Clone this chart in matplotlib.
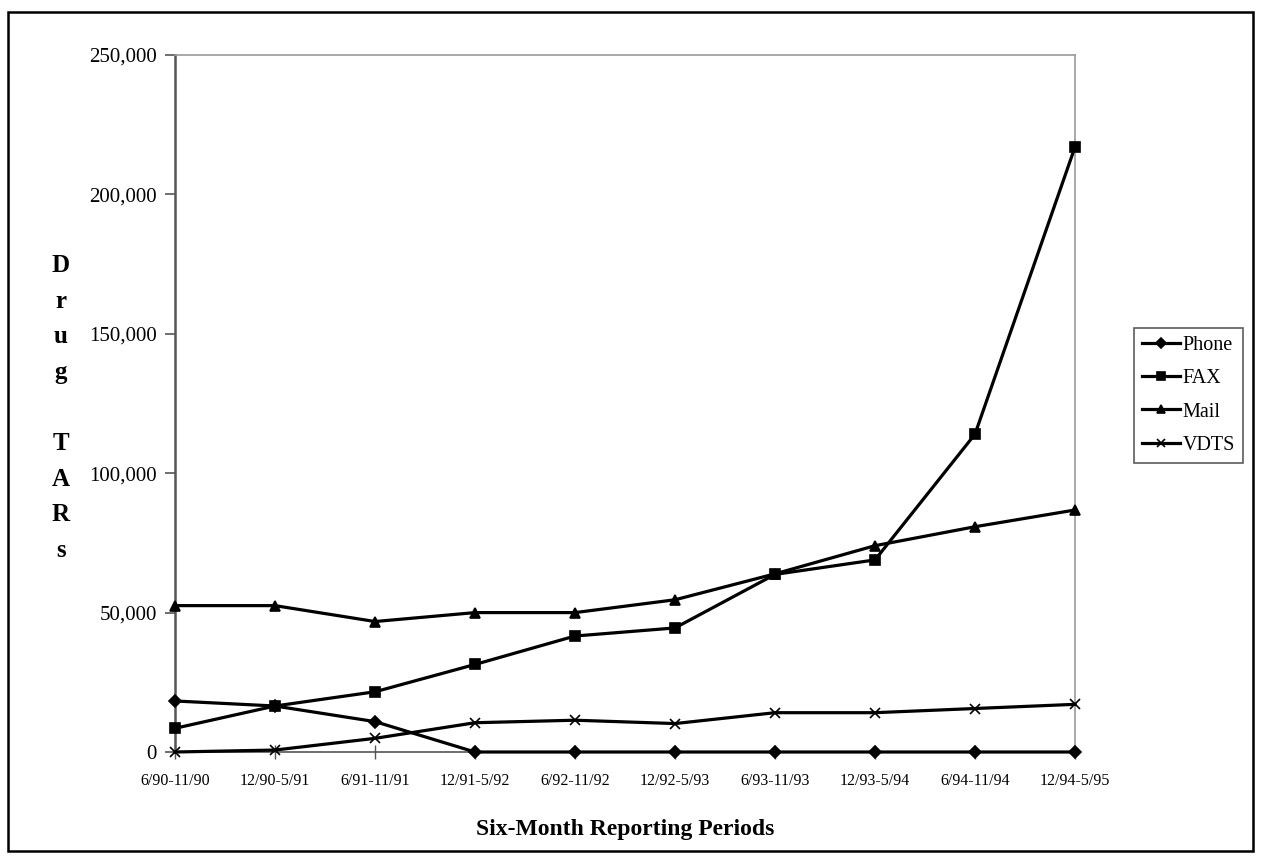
import matplotlib.pyplot as plt
from matplotlib.patches import Rectangle
from matplotlib.ticker import FuncFormatter

plt.rcParams['font.family'] = ['Liberation Serif', 'DejaVu Serif']

# six-month reporting periods
periods = ['6/90-11/90', '12/90-5/91', '6/91-11/91', '12/91-5/92', '6/92-11/92',
           '12/92-5/93', '6/93-11/93', '12/93-5/94', '6/94-11/94', '12/94-5/95']

# drug TARs received by submission method
phone = [18300, 16500, 10900, 0, 0, 0, 0, 0, 0, 0]
fax   = [8500, 16500, 21600, 31400, 41600, 44500, 63700, 68900, 114000, 217000]
mail  = [52500, 52500, 46800, 50000, 50000, 54600, 63900, 74000, 80800, 86800]
vdts  = [0, 700, 4900, 10500, 11400, 10200, 14100, 14100, 15600, 17100]

series = [('Phone', phone, 'D', 6),
          ('FAX', fax, 's', 6.5),
          ('Mail', mail, '^', 7),
          ('VDTS', vdts, 'x', 7)]

W, H = 1261, 861
fig = plt.figure(figsize=(W / 100, H / 100), dpi=100)
ax = fig.add_axes([175 / W, 1 - 752 / H, 900 / W, 697 / H])

x = list(range(len(periods)))
handles = []
for name, vals, mk, ms in series:
    ln, = ax.plot(x, vals, color='black', lw=2.3, marker=mk, ms=ms,
                  mec='black', mfc='black', mew=1.2, clip_on=False, zorder=3,
                  label=name)
    handles.append(ln)

ax.set_xlim(0, len(periods) - 1)
ax.set_ylim(0, 250000)
ax.set_xticks(x)
ax.set_xticklabels(periods, fontsize=11.5)
ax.set_yticks(range(0, 250001, 50000))
ax.yaxis.set_major_formatter(FuncFormatter(lambda v, p: f'{v:,.0f}'))
ax.tick_params(axis='y', labelsize=15, direction='out', length=7,
               width=1.2, color='#555555', pad=6)
ax.tick_params(axis='x', direction='inout', length=10, width=1,
               color='#555555', pad=10)

for side in ('top', 'right'):
    ax.spines[side].set_color('#999999')
    ax.spines[side].set_linewidth(1.2)
ax.spines['left'].set_color('#555555')
ax.spines['left'].set_linewidth(1.8)
ax.spines['bottom'].set_color('#555555')
ax.spines['bottom'].set_linewidth(1.2)

fig.text(625 / W, 1 - 830 / H, 'Six-Month Reporting Periods',
         ha='center', va='center', fontsize=17, fontweight='bold')
fig.text(61 / W, 1 - 408 / H, '\n'.join('Drug TARs'),
         ha='center', va='center', fontsize=18, fontweight='bold',
         linespacing=1.7)

leg = fig.legend(handles=handles, loc='upper left',
                 bbox_to_anchor=(1134 / W, 1 - 328 / H), borderaxespad=0,
                 fontsize=14.5, handlelength=1.9, handletextpad=0.1,
                 labelspacing=0.7, borderpad=0.4, frameon=True,
                 fancybox=False, markerscale=0.8)
leg.get_frame().set_edgecolor('#333333')
leg.get_frame().set_linewidth(1.2)

# outer border around the whole chart
fig.patches.append(Rectangle((8 / W, 1 - 851 / H), 1245 / W, 839 / H,
                             transform=fig.transFigure, fill=False,
                             edgecolor='black', linewidth=1.8))

fig.savefig('out.png', dpi=100)
